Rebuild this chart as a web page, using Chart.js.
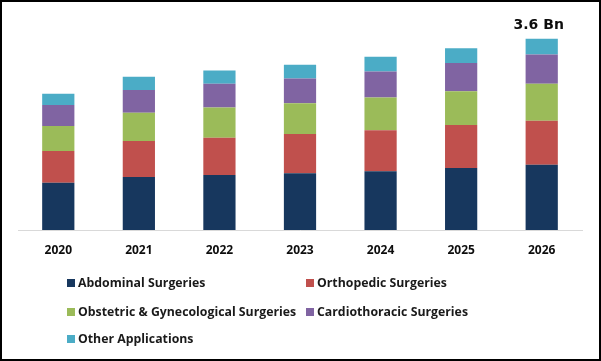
<!DOCTYPE html>
<html>
<head>
<meta charset="utf-8">
<script src="https://cdn.jsdelivr.net/npm/chart.js@4"></script>
<style>
  html, body { margin: 0; padding: 0; background: #fff; }
  #wrap { position: relative; width: 601px; height: 361px; overflow: hidden; }
  #c { position: absolute; left: 0; top: 0; }
  #frame { position: absolute; left: 0; top: 0; width: 601px; height: 361px; box-sizing: border-box; border: 2px solid #000; pointer-events: none; }
  #legend { position: absolute; left: 0; top: 0; width: 601px; height: 361px; pointer-events: none;
            font-family: "Open Sans", "Liberation Sans", sans-serif; font-weight: bold; font-size: 12.3px; color: #1a1a1a; }
  .item { position: absolute; white-space: nowrap; line-height: 16px; height: 16px; }
  .box { position: absolute; width: 8px; height: 8px; top: 4px; left: 0; }
  .txt { position: absolute; left: 11px; top: 0; }
</style>
</head>
<body>
<div id="wrap">
  <canvas id="c" width="601" height="361"></canvas>
  <div id="legend"></div>
  <div id="frame"></div>
</div>
<script>
// ---- data ----
const categories = ['2020', '2021', '2022', '2023', '2024', '2025', '2026'];
const seriesNames = ['Abdominal Surgeries', 'Orthopedic Surgeries', 'Obstetric & Gynecological Surgeries', 'Cardiothoracic Surgeries', 'Other Applications'];
const abdominal      = [0.89, 1.00, 1.04, 1.07, 1.11, 1.17, 1.23];
const orthopedic     = [0.60, 0.68, 0.70, 0.74, 0.77, 0.81, 0.83];
const obstetric      = [0.47, 0.53, 0.57, 0.58, 0.62, 0.64, 0.70];
const cardiothoracic = [0.40, 0.43, 0.45, 0.47, 0.49, 0.53, 0.55];
const otherApps      = [0.21, 0.25, 0.25, 0.26, 0.28, 0.28, 0.30];
const totalLabels    = ['', '', '', '', '', '', '3.6 Bn'];

const seriesValues = [abdominal, orthopedic, obstetric, cardiothoracic, otherApps];
const colors = ['#17375E', '#C0504D', '#9BBB59', '#8064A2', '#4BACC6'];

const datasets = seriesNames.map((name, i) => ({
  label: name,
  data: seriesValues[i],
  backgroundColor: colors[i],
  borderWidth: 0,
  categoryPercentage: 1.0,
  barPercentage: 0.4
}));

const totalLabelPlugin = {
  id: 'totalLabel',
  afterDatasetsDraw(chart) {
    const ctx = chart.ctx;
    const meta = chart.getDatasetMeta(chart.data.datasets.length - 1);
    ctx.save();
    ctx.font = 'bold 14px "DejaVu Sans", sans-serif';
    ctx.fillStyle = '#0d0d0d';
    ctx.textAlign = 'center';
    ctx.textBaseline = 'alphabetic';
    totalLabels.forEach((t, i) => {
      if (!t) return;
      const el = meta.data[i];
      ctx.fillText(t, el.x - 3, el.y - 10);
    });
    ctx.restore();
  }
};

new Chart(document.getElementById('c'), {
  type: 'bar',
  data: { labels: categories, datasets },
  options: {
    responsive: false,
    animation: false,
    devicePixelRatio: 1,
    layout: { padding: { left: 18, right: 19, top: 18, bottom: 100 } },
    plugins: { legend: { display: false }, tooltip: { enabled: false } },
    scales: {
      x: {
        stacked: true,
        grid: { display: false, drawTicks: false },
        border: { display: true, color: '#D9D9D9', width: 1 },
        ticks: {
          color: '#0d0d0d',
          padding: 13,
          font: { family: '"Open Sans", "Liberation Sans", sans-serif', weight: 'bold', size: 12 }
        },
        afterFit(s) { s.height = 31; }
      },
      y: {
        stacked: true,
        display: false,
        min: 0,
        max: 4
      }
    }
  },
  plugins: [totalLabelPlugin]
});

// ---- legend (HTML, Excel-style two columns) ----
const legendPos = [
  { x: 67, y: 275 }, { x: 306, y: 275 },
  { x: 67, y: 303.5 }, { x: 306, y: 303.5 },
  { x: 67, y: 330.5 }
];
const legend = document.getElementById('legend');
seriesNames.forEach((name, i) => {
  const it = document.createElement('div');
  it.className = 'item';
  it.style.left = legendPos[i].x + 'px';
  it.style.top = legendPos[i].y + 'px';
  const b = document.createElement('span');
  b.className = 'box';
  b.style.background = colors[i];
  const t = document.createElement('span');
  t.className = 'txt';
  t.textContent = name;
  it.appendChild(b);
  it.appendChild(t);
  legend.appendChild(it);
});
</script>
</body>
</html>
